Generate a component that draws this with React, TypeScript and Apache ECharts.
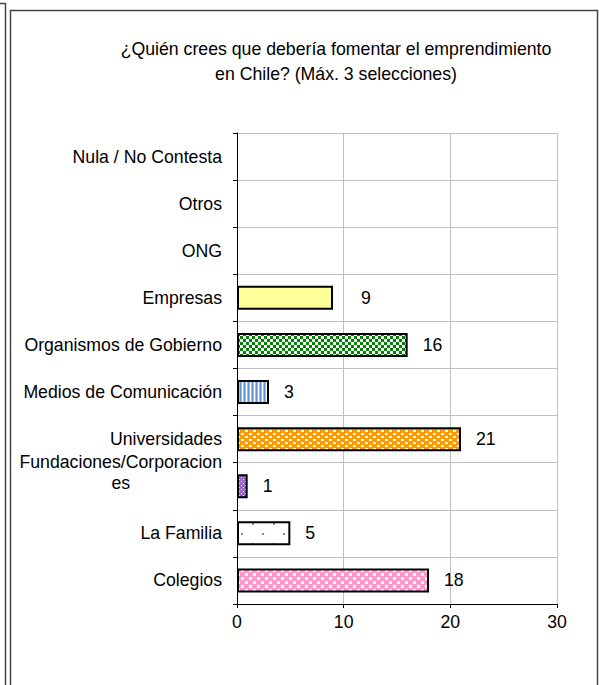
import React, { useEffect, useRef } from "react";
import * as echarts from "echarts";

const categories = [
  "Colegios",
  "La Familia",
  "Fundaciones/Corporacion\nes",
  "Universidades",
  "Medios de Comunicación",
  "Organismos de Gobierno",
  "Empresas",
  "ONG",
  "Otros",
  "Nula / No Contesta",
];
const values = [18, 5, 1, 21, 3, 16, 9, 0, 0, 0];
const xTicks = { min: 0, max: 30, interval: 10 };
const titleText = "¿Quién crees que debería fomentar el emprendimiento\nen Chile? (Máx. 3 selecciones)";

function makePattern(w: number, h: number, bg: string, draw: (ctx: CanvasRenderingContext2D) => void) {
  const c = document.createElement("canvas");
  c.width = w;
  c.height = h;
  const ctx = c.getContext("2d")!;
  ctx.fillStyle = bg;
  ctx.fillRect(0, 0, w, h);
  draw(ctx);
  return { image: c, repeat: "repeat" };
}

function buildFills() {
  const pink = makePattern(8, 8, "#FF99CC", (ctx) => {
    ctx.fillStyle = "#ffffff";
    ctx.fillRect(1, 1, 3, 3);
    ctx.fillRect(5, 5, 3, 3);
  });
  const family = makePattern(21, 20, "#ffffff", (ctx) => {
    ctx.fillStyle = "#5b8fd6";
    ctx.fillRect(0, 3, 2, 2);
    ctx.fillRect(10, 13, 2, 2);
  });
  const purple = makePattern(4, 4, "#9966CC", (ctx) => {
    ctx.fillStyle = "#e6d9f2";
    ctx.fillRect(1, 1, 1, 1);
    ctx.fillRect(3, 3, 1, 1);
  });
  const orange = makePattern(8, 6, "#FF9900", (ctx) => {
    ctx.fillStyle = "#ffffff";
    ctx.fillRect(1, 1, 3, 2);
    ctx.fillRect(5, 4, 3, 2);
  });
  const blue = makePattern(4, 1, "#99C2F0", (ctx) => {
    ctx.fillStyle = "#5e8fd0";
    ctx.fillRect(0, 0, 1, 1);
    ctx.fillStyle = "#ffffff";
    ctx.fillRect(2, 0, 1, 1);
  });
  const green = makePattern(6, 6, "#ffffff", (ctx) => {
    ctx.fillStyle = "#008000";
    ctx.fillRect(0, 0, 3, 3);
    ctx.fillRect(3, 3, 3, 3);
  });
  const yellow = "#FFFF99";
  return [pink, family, purple, orange, blue, green, yellow, "#ffffff", "#ffffff", "#ffffff"];
}

export default function App() {
  const ref = useRef<HTMLDivElement>(null);
  useEffect(() => {
    document.body.style.margin = "0";
    const chart = echarts.init(ref.current!, null, { renderer: "svg" });
    const fills = buildFills();
    const font = "'Liberation Sans', Arial, sans-serif";
    const fs = 17.7;
    chart.setOption({
      animation: false,
      backgroundColor: "#ffffff",
      title: {
        text: titleText,
        left: 331,
        top: 31,
        textAlign: "center",
        textStyle: {
          fontFamily: font,
          fontSize: fs,
          fontWeight: "normal",
          color: "#000",
          lineHeight: 25,
        },
      },
      graphic: [
        {
          type: "polyline",
          shape: { points: [[0, 3.5], [5.5, 3.5], [5.5, 685]] },
          style: { stroke: "#444", lineWidth: 1.5, fill: null },
        },
        {
          type: "polyline",
          shape: { points: [[10.5, 685], [10.5, 10.5], [597.5, 10.5], [597.5, 685]] },
          style: { stroke: "#444", lineWidth: 1.5, fill: null },
        },
      ],
      grid: { left: 237, right: 42, top: 133, bottom: 81, containLabel: false },
      xAxis: {
        type: "value",
        min: xTicks.min,
        max: xTicks.max,
        interval: xTicks.interval,
        axisLine: { show: true, lineStyle: { color: "#000", width: 1 } },
        axisTick: { show: true, length: 4, lineStyle: { color: "#000" } },
        axisLabel: { fontFamily: font, fontSize: fs, color: "#000", margin: 9 },
        splitLine: { show: true, lineStyle: { color: "#c0c0c0", width: 1 } },
      },
      yAxis: {
        type: "category",
        data: categories.map((c) =>
          c.includes("\n") ? { value: c, textStyle: { padding: [0, 0, 28, 0] } } : c
        ),
        axisLine: { show: true, lineStyle: { color: "#000", width: 1 } },
        axisTick: { show: true, length: 4, lineStyle: { color: "#000" } },
        splitLine: { show: true, lineStyle: { color: "#c0c0c0", width: 1 } },
        axisLabel: {
          margin: 15,
          fontFamily: font,
          fontSize: fs,
          color: "#000",
          formatter: (v: string) =>
            v.includes("\n") ? v.split("\n").map((s) => `{c|${s}}`).join("\n") : v,
          rich: {
            c: { align: "center", fontFamily: font, fontSize: fs, color: "#000", lineHeight: 21 },
          },
        },
      },
      series: [
        {
          type: "bar",
          barWidth: 24,
          data: values.map((v, i) => ({
            value: v,
            itemStyle: {
              color: fills[i],
              borderColor: "#000",
              borderWidth: v > 0 ? 2 : 0,
            },
            label: v === 9 ? { distance: 28 } : undefined,
          })),
          label: {
            show: true,
            position: "right",
            distance: 15,
            fontFamily: font,
            fontSize: fs,
            color: "#000",
            formatter: (p: any) => (p.value > 0 ? String(p.value) : ""),
          },
        },
      ],
    });
    return () => chart.dispose();
  }, []);
  return (
    <div
      ref={ref}
      style={{ position: "absolute", left: 0, top: 0, width: 599, height: 685 }}
    />
  );
}
